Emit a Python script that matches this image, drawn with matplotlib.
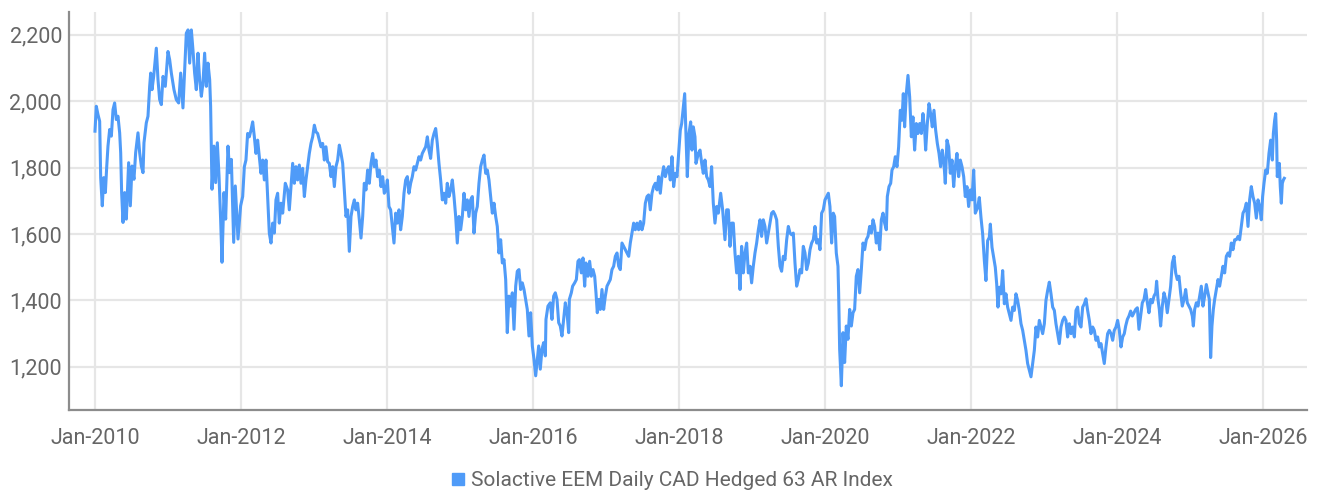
import matplotlib
matplotlib.use("Agg")
import matplotlib.pyplot as plt
import matplotlib.dates as mdates
from matplotlib.lines import Line2D
from matplotlib.ticker import FuncFormatter
import pandas as pd

series_name = "Solactive EEM Daily CAD Hedged 63 AR Index"

# decimal years (date of each reading)
years = [
2010.000,2010.018,2010.041,2010.064,2010.078,2010.100,2010.119,2010.142,2010.160,2010.178,
2010.201,2010.224,2010.247,2010.269,2010.292,2010.315,2010.338,2010.352,2010.365,2010.384,
2010.406,2010.429,2010.461,2010.484,2010.507,2010.534,2010.557,2010.589,2010.612,2010.635,
2010.658,2010.671,2010.703,2010.726,2010.749,2010.763,2010.781,2010.804,2010.840,2010.863,
2010.886,2010.909,2010.932,2010.963,2011.000,2011.023,2011.046,2011.082,2011.114,2011.146,
2011.174,2011.205,2011.228,2011.251,2011.274,2011.297,2011.320,2011.342,2011.365,2011.388,
2011.411,2011.434,2011.457,2011.479,2011.502,2011.525,2011.548,2011.571,2011.584,2011.603,
2011.630,2011.653,2011.676,2011.699,2011.721,2011.740,2011.767,2011.790,2011.822,2011.845,
2011.868,2011.900,2011.922,2011.959,2011.995,
2012.023,2012.046,2012.068,2012.091,2012.114,2012.137,2012.160,2012.183,2012.205,2012.228,
2012.251,2012.274,2012.297,2012.320,2012.342,2012.365,2012.388,2012.411,2012.434,2012.457,
2012.479,2012.502,2012.525,2012.548,2012.571,2012.607,2012.639,2012.662,2012.685,2012.708,
2012.731,2012.753,2012.776,2012.799,2012.822,2012.845,2012.868,2012.890,2012.913,2012.936,
2012.959,2012.982,2013.005,2013.027,2013.050,2013.073,2013.096,2013.119,2013.142,2013.164,
2013.187,2013.210,2013.233,2013.256,2013.279,2013.301,2013.324,2013.347,2013.370,2013.393,
2013.416,2013.438,2013.461,2013.484,2013.507,2013.530,2013.553,2013.575,2013.598,2013.621,
2013.644,2013.667,2013.689,2013.712,2013.735,2013.758,2013.781,2013.804,2013.826,2013.849,
2013.872,2013.895,2013.918,2013.941,2013.963,2013.986,
2014.005,2014.027,2014.050,2014.073,2014.096,2014.119,2014.142,2014.164,2014.187,2014.210,
2014.233,2014.256,2014.279,2014.301,2014.324,2014.347,2014.370,2014.393,2014.416,2014.438,
2014.461,2014.484,2014.507,2014.530,2014.553,2014.575,2014.598,2014.621,2014.644,2014.667,
2014.689,2014.712,2014.735,2014.758,2014.781,2014.804,2014.826,2014.849,2014.872,2014.895,
2014.918,2014.941,2014.963,2014.986,2015.009,2015.032,2015.055,2015.078,2015.100,2015.123,
2015.146,2015.169,2015.192,2015.215,2015.237,2015.260,2015.283,2015.306,2015.329,2015.352,
2015.374,2015.397,2015.420,2015.443,2015.466,2015.489,2015.511,2015.534,2015.557,2015.580,
2015.603,2015.626,2015.648,2015.671,2015.694,2015.717,2015.740,2015.763,2015.785,2015.808,
2015.831,2015.854,2015.877,2015.900,2015.922,2015.945,2015.968,2015.991,2016.014,2016.037,
2016.078,2016.100,2016.123,2016.146,2016.169,2016.178,2016.205,2016.237,2016.260,2016.283,
2016.306,2016.329,2016.352,2016.374,2016.397,2016.420,2016.443,2016.466,2016.489,2016.498,
2016.525,2016.543,2016.571,2016.594,2016.616,2016.635,2016.662,2016.685,2016.708,2016.726,
2016.753,2016.776,2016.799,2016.822,2016.845,2016.863,2016.881,2016.900,2016.922,2016.945,
2016.968,2016.991,2017.014,2017.037,2017.059,2017.082,2017.105,2017.128,2017.151,2017.174,
2017.196,2017.219,2017.242,2017.265,2017.288,2017.311,2017.333,2017.356,2017.379,2017.402,
2017.425,2017.447,2017.470,2017.493,2017.516,2017.539,2017.562,2017.584,2017.607,2017.630,
2017.653,2017.676,2017.699,2017.721,2017.744,2017.767,2017.790,2017.813,2017.836,2017.858,
2017.881,2017.904,2017.927,2017.950,2017.973,2017.995,2018.018,
2018.037,2018.059,2018.078,2018.096,2018.114,2018.137,2018.160,2018.178,2018.196,2018.219,
2018.233,2018.265,2018.288,2018.311,2018.333,2018.356,2018.379,2018.402,2018.425,2018.447,
2018.470,2018.493,2018.516,2018.539,2018.571,2018.598,2018.630,2018.653,2018.676,2018.699,
2018.721,2018.744,2018.767,2018.790,2018.813,2018.836,2018.858,2018.881,2018.904,2018.927,
2018.950,2018.973,2018.995,2019.018,2019.041,2019.064,2019.087,2019.110,2019.132,2019.155,
2019.178,2019.201,2019.224,2019.247,2019.269,2019.292,2019.315,2019.338,2019.361,2019.384,
2019.406,2019.429,2019.452,2019.475,2019.498,2019.521,2019.543,2019.566,2019.589,2019.612,
2019.635,2019.658,2019.680,2019.703,2019.726,2019.749,2019.772,2019.795,2019.817,2019.840,
2019.863,2019.886,2019.909,2019.932,2019.954,2019.977,2020.000,2020.023,2020.046,2020.068,
2020.091,2020.114,
2020.132,2020.155,2020.178,2020.187,2020.201,2020.224,2020.247,2020.269,2020.292,2020.315,
2020.338,2020.361,2020.384,2020.406,2020.429,2020.452,2020.475,2020.498,2020.521,2020.543,
2020.566,2020.589,2020.612,2020.635,2020.658,2020.680,2020.703,2020.726,2020.749,2020.772,
2020.795,2020.817,2020.840,2020.854,2020.877,2020.900,2020.918,2020.941,2020.963,2020.986,
2021.009,2021.032,2021.055,2021.073,2021.091,2021.114,2021.137,2021.160,2021.183,2021.205,
2021.228,2021.251,2021.274,2021.297,2021.320,2021.342,2021.365,2021.379,2021.402,2021.425,
2021.447,2021.470,2021.493,2021.516,2021.539,2021.562,2021.584,2021.607,2021.630,2021.648,
2021.671,2021.694,2021.717,2021.740,2021.763,2021.785,2021.808,2021.831,2021.854,2021.877,
2021.900,2021.922,2021.945,2021.968,2021.991,2022.014,2022.037,2022.059,
2022.091,2022.114,2022.137,2022.160,2022.183,2022.205,2022.228,2022.251,2022.265,2022.288,
2022.311,2022.333,2022.352,2022.370,2022.388,2022.411,2022.434,2022.457,2022.479,2022.502,
2022.525,2022.548,2022.571,2022.594,2022.616,2022.639,2022.662,2022.685,2022.708,2022.731,
2022.753,2022.776,2022.799,2022.822,2022.845,2022.868,2022.890,2022.913,2022.936,2022.959,
2022.982,2023.005,2023.027,2023.050,2023.073,2023.096,2023.119,2023.142,2023.164,2023.187,
2023.210,2023.233,2023.256,2023.279,2023.301,2023.324,2023.347,2023.370,2023.393,2023.416,
2023.438,2023.461,2023.484,2023.507,2023.530,2023.553,2023.575,2023.598,2023.621,2023.644,
2023.667,2023.689,2023.712,2023.735,2023.758,2023.781,2023.804,2023.826,2023.849,2023.872,
2023.895,2023.918,2023.941,2023.963,2023.986,2024.009,2024.032,2024.055,2024.078,2024.100,
2024.119,2024.142,2024.164,2024.187,2024.210,2024.233,2024.256,2024.279,2024.301,2024.324,
2024.347,2024.370,2024.393,2024.416,2024.438,2024.461,2024.484,2024.507,2024.530,2024.543,
2024.562,2024.580,2024.598,2024.621,2024.644,2024.667,2024.689,2024.712,2024.735,2024.758,
2024.781,2024.804,2024.826,2024.849,2024.872,2024.895,2024.918,2024.941,2024.963,2024.986,
2025.009,2025.032,2025.046,2025.064,2025.087,2025.110,2025.132,2025.155,2025.178,2025.201,
2025.224,2025.247,2025.265,2025.283,2025.301,2025.320,2025.338,2025.361,2025.384,2025.406,
2025.429,2025.452,2025.475,2025.498,2025.521,2025.543,2025.566,2025.589,2025.612,2025.635,
2025.658,2025.680,2025.703,2025.726,2025.749,2025.772,2025.795,2025.817,2025.840,2025.863,
2025.886,2025.909,2025.932,2025.954,2025.977,2025.995,2026.014,2026.037,2026.059,2026.082,
2026.105,2026.128,2026.142,2026.160,2026.174,2026.187,2026.196,2026.210,2026.224,2026.237,
2026.251,2026.265,2026.279,2026.292,
]

index_values = [
1910,1985,1960,1940,1770,1685,1770,1725,1800,1865,
1915,1895,1975,1995,1945,1955,1905,1845,1725,1635,
1725,1645,1815,1685,1805,1765,1845,1905,1845,1805,
1785,1875,1935,1955,2045,2085,2035,2075,2160,2065,
2005,1990,2075,2045,2150,2125,2085,2035,2005,1995,
2085,1980,2095,2205,2215,2115,2215,2155,2085,2035,
2145,2065,2015,2055,2145,2045,2115,2065,1985,1735,
1865,1755,1875,1775,1645,1515,1725,1645,1865,1785,
1825,1575,1745,1585,1685,
1713,1803,1823,1903,1893,1913,1938,1893,1843,1883,
1833,1783,1823,1763,1823,1713,1603,1573,1633,1603,
1703,1723,1633,1693,1663,1753,1733,1673,1743,1813,
1753,1803,1763,1808,1753,1798,1713,1763,1803,1843,
1873,1893,1928,1908,1903,1883,1863,1873,1823,1863,
1818,1813,1773,1803,1743,1803,1823,1868,1843,1813,
1733,1653,1673,1548,1653,1683,1703,1673,1693,1643,
1588,1653,1753,1733,1793,1753,1813,1843,1803,1823,
1773,1793,1743,1773,1723,1733,
1763,1683,1673,1623,1573,1663,1633,1673,1613,1653,
1723,1763,1773,1723,1753,1773,1803,1793,1813,1833,
1823,1843,1853,1863,1893,1853,1828,1883,1903,1918,
1873,1813,1763,1703,1723,1693,1753,1713,1733,1763,
1713,1653,1573,1653,1613,1653,1723,1673,1703,1653,
1703,1713,1603,1663,1683,1753,1803,1823,1838,1783,
1793,1763,1713,1663,1693,1653,1623,1543,1583,1513,
1523,1463,1303,1413,1383,1423,1313,1443,1488,1493,
1433,1453,1433,1403,1373,1293,1363,1263,1223,1173,
1263,1193,1253,1273,1233,1343,1383,1393,1343,1413,
1423,1403,1333,1323,1293,1343,1393,1363,1303,1403,
1423,1443,1453,1463,1518,1523,1483,1528,1443,1513,
1473,1518,1473,1493,1473,1423,1363,1403,1373,1433,
1373,1413,1443,1453,1463,1493,1503,1533,1543,1503,
1493,1573,1563,1553,1543,1533,1573,1603,1633,1613,
1633,1613,1638,1613,1633,1693,1713,1718,1673,1723,
1743,1753,1733,1773,1723,1773,1803,1773,1793,1803,
1763,1833,1743,1783,1773,1843,1913,
1933,1983,2023,1903,1773,1903,1938,1853,1923,1893,
1813,1843,1853,1813,1783,1823,1773,1763,1743,1803,
1693,1633,1683,1663,1723,1673,1583,1673,1673,1563,
1633,1633,1543,1483,1533,1433,1563,1483,1543,1573,
1483,1503,1453,1503,1543,1573,1613,1643,1593,1643,
1623,1573,1603,1633,1663,1668,1658,1643,1563,1503,
1488,1533,1523,1583,1623,1603,1598,1603,1513,1443,
1463,1493,1483,1563,1543,1493,1513,1553,1573,1583,
1623,1573,1583,1553,1663,1673,1703,1713,1723,1683,
1573,1663,
1653,1543,1503,1423,1253,1143,1303,1213,1323,1283,
1373,1323,1363,1373,1473,1493,1423,1493,1573,1553,
1583,1593,1623,1603,1643,1623,1573,1603,1553,1643,
1663,1633,1613,1713,1743,1753,1793,1803,1833,1803,
1863,1973,1943,2023,1923,2023,2078,2013,1893,1953,
1853,1933,1903,1933,1903,1963,1913,1853,1933,1993,
1963,1923,1973,1913,1873,1843,1803,1853,1813,1753,
1883,1863,1783,1823,1743,1803,1843,1773,1823,1803,
1773,1713,1743,1683,1733,1703,1793,1663,
1680,1710,1650,1600,1520,1460,1580,1590,1630,1560,
1530,1500,1450,1380,1440,1420,1490,1390,1420,1380,
1360,1340,1380,1370,1420,1400,1370,1330,1310,1280,
1250,1210,1190,1170,1210,1250,1320,1290,1340,1320,
1300,1330,1400,1430,1455,1420,1380,1370,1330,1300,
1270,1320,1340,1350,1340,1290,1330,1300,1320,1290,
1370,1380,1330,1320,1380,1390,1405,1370,1340,1300,
1320,1310,1280,1290,1260,1270,1240,1210,1260,1300,
1310,1300,1280,1310,1320,1340,1310,1260,1290,1300,
1323,1343,1353,1368,1353,1363,1373,1378,1313,1353,
1393,1403,1433,1393,1363,1403,1393,1413,1423,1458,
1403,1373,1323,1383,1423,1403,1363,1403,1443,1513,
1533,1483,1463,1473,1423,1383,1403,1433,1393,1383,
1373,1353,1323,1373,1393,1383,1413,1443,1383,1413,
1448,1423,1403,1228,1323,1373,1403,1433,1463,1443,
1473,1503,1483,1533,1543,1533,1573,1553,1583,1583,
1593,1583,1623,1663,1673,1693,1623,1703,1743,1713,
1693,1648,1703,1683,1643,1713,1753,1793,1783,1843,
1883,1823,1903,1943,1963,1883,1773,1803,1813,1743,
1693,1753,1763,1768,
]

y_ticks = [1200, 1400, 1600, 1800, 2000, 2200]
x_tick_years = [2010, 2012, 2014, 2016, 2018, 2020, 2022, 2024, 2026]

LINE_COLOR = "#4f9bf8"
TEXT_COLOR = "#666666"
GRID_COLOR = "#e6e6e6"
SPINE_COLOR = "#8c8c8c"


def to_date(y):
    return pd.Timestamp("2010-01-01") + pd.Timedelta(days=(y - 2010) * 365.25)


dates = [to_date(y) for y in years]

plt.rcParams["font.family"] = ["Roboto", "DejaVu Sans"]

fig = plt.figure(figsize=(13.19, 4.95), dpi=100)
ax = fig.add_axes([69 / 1319, 1 - 410 / 495, (1307 - 69) / 1319, (410 - 12) / 495])

ax.plot(dates, index_values, color=LINE_COLOR, linewidth=2.2, solid_joinstyle="round")

ax.set_ylim(1070, 2269)
ax.set_xlim(to_date(2009.644), to_date(2026.603))

ax.set_yticks(y_ticks)
ax.yaxis.set_major_formatter(FuncFormatter(lambda v, p: f"{int(v):,}"))
ax.set_xticks([pd.Timestamp(f"{y}-01-01") for y in x_tick_years])
ax.xaxis.set_major_formatter(mdates.DateFormatter("%b-%Y"))

ax.grid(True, color=GRID_COLOR, linewidth=1.6)
ax.set_axisbelow(True)

for s in ["top", "right"]:
    ax.spines[s].set_visible(False)
ax.spines["left"].set_color(SPINE_COLOR)
ax.spines["left"].set_linewidth(1.6)
ax.spines["bottom"].set_color(SPINE_COLOR)
ax.spines["bottom"].set_linewidth(1.6)

ax.tick_params(axis="both", length=0, labelsize=15.5, labelcolor=TEXT_COLOR)
ax.tick_params(axis="x", pad=13)
ax.tick_params(axis="y", pad=5)

handle = Line2D([], [], marker="s", linestyle="none", color=LINE_COLOR, markersize=8)
leg = fig.legend([handle], [series_name], loc="center", bbox_to_anchor=(670 / 1319, 1 - 481 / 495),
                 frameon=False, fontsize=15, handletextpad=0.1, handlelength=1.0)
for t in leg.get_texts():
    t.set_color(TEXT_COLOR)

fig.savefig("out.png", dpi=100)
